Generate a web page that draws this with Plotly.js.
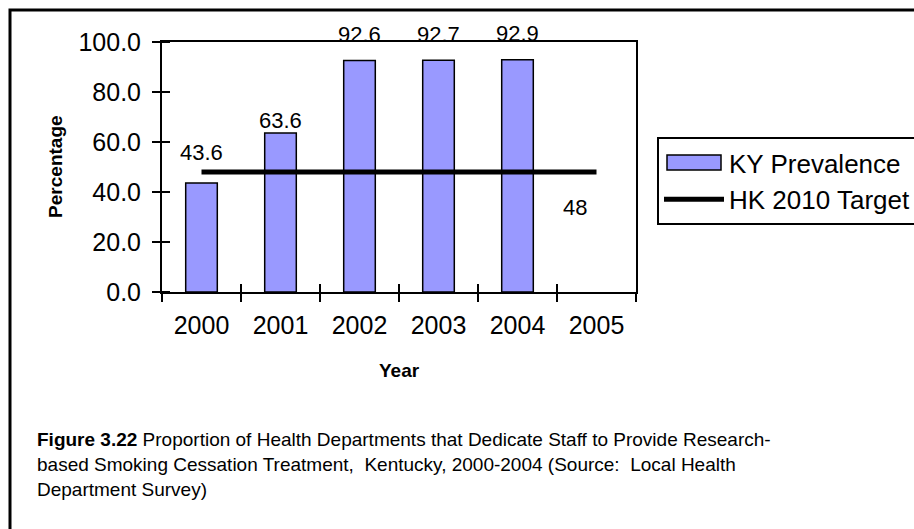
<!DOCTYPE html>
<html>
<head>
<meta charset="utf-8">
<script src="https://cdn.plot.ly/plotly-3.0.1.min.js"></script>
<style>
  html, body { margin: 0; padding: 0; background: #fff; }
  #chart { width: 914px; height: 529px; }
</style>
</head>
<body>
<div id="chart"></div>
<script>
// Data
const years = ['2000', '2001', '2002', '2003', '2004', '2005'];
const kyPrevalence = [43.6, 63.6, 92.6, 92.7, 92.9, null];
const hkTarget = [48, 48, 48, 48, 48, 48];
const captionLines = [
    '<b>Figure 3.22</b> Proportion of Health Departments that Dedicate Staff to Provide Research-',
    'based Smoking Cessation Treatment,  Kentucky, 2000-2004 (Source:  Local Health',
    'Department Survey)'
];

// label offsets (px above the bar top), Excel nudged them around
const labelShift = [31, 13, 26, 26, 26];

const FONT = 'Arial, "Liberation Sans", sans-serif';

const barTrace = {
    x: years,
    y: kyPrevalence,
    name: 'KY Prevalence',
    type: 'bar',
    marker: { color: '#9999ff', line: { color: '#000', width: 1.5 } },
    legendgroup: 'a',
    hoverinfo: 'skip'
};

const lineTrace = {
    x: years,
    y: hkTarget,
    name: 'HK 2010 Target',
    type: 'scatter',
    mode: 'lines',
    line: { color: '#000', width: 5 },
    legendgroup: 'b',
    hoverinfo: 'skip'
};

// transparent copy on an overlay x axis, only so the inner half of the x ticks gets drawn
const tickTraceX = {
    x: years, y: hkTarget,
    xaxis: 'x2', yaxis: 'y',
    type: 'scatter', mode: 'lines',
    line: { width: 0.1, color: 'rgba(0,0,0,0)' },
    showlegend: false, hoverinfo: 'skip'
};

const annotations = [];
kyPrevalence.forEach((v, i) => {
    if (v === null) return;
    annotations.push({
        x: i, y: v, xref: 'x', yref: 'y',
        text: v.toFixed(1), showarrow: false,
        yanchor: 'middle', yshift: labelShift[i],
        font: { family: FONT, size: 22, color: '#000' }
    });
});
// only the last point of the target line is labelled
const last = hkTarget.length - 1;
annotations.push({
    x: last, y: hkTarget[last], xref: 'x', yref: 'y',
    text: String(hkTarget[last]), showarrow: false,
    xshift: -22, yshift: -35, yanchor: 'middle',
    font: { family: FONT, size: 22, color: '#000' }
});
// axis titles
annotations.push({
    xref: 'paper', yref: 'paper', x: -0.226, y: 0.5,
    xanchor: 'center', yanchor: 'middle',
    text: '<b>Percentage</b>', textangle: -90, showarrow: false,
    font: { family: FONT, size: 19, color: '#000' }
});
annotations.push({
    xref: 'paper', yref: 'paper', x: 0.5, y: -0.312,
    xanchor: 'center', yanchor: 'middle',
    text: '<b>Year</b>', showarrow: false,
    font: { family: FONT, size: 19, color: '#000' }
});
// caption
captionLines.forEach((t, i) => {
    annotations.push({
        xref: 'paper', yref: 'paper',
        x: (35 - 162) / 474, y: (292 - 439 - i * 25) / 250,
        xanchor: 'left', yanchor: 'middle', align: 'left',
        text: t, showarrow: false,
        font: { family: FONT, size: 19, color: '#000' }
    });
});

const axisBase = {
    showgrid: false, zeroline: false,
    tickwidth: 2, tickcolor: '#000', ticklen: 8,
    automargin: false, fixedrange: true
};

const layout = {
    width: 914,
    height: 529,
    margin: { l: 162, r: 278, t: 42, b: 237, autoexpand: false },
    paper_bgcolor: '#fff',
    plot_bgcolor: '#fff',
    font: { family: FONT, color: '#000' },
    bargap: 0.6,
    showlegend: true,
    legend: {
        x: (657 - 162) / 474, y: (292 - 137) / 250,
        xanchor: 'left', yanchor: 'top',
        bordercolor: '#000', borderwidth: 2,
        font: { family: FONT, size: 26, color: '#000' },
        traceorder: 'grouped', tracegroupgap: 0,
        itemwidth: 60
    },
    xaxis: Object.assign({}, axisBase, {
        type: 'category',
        range: [-0.5, 5.5],
        tickson: 'boundaries',
        ticks: 'outside',
        ticklabelstandoff: 10,
        showline: true, linecolor: '#000', linewidth: 2, mirror: true,
        tickfont: { family: FONT, size: 25, color: '#000' }
    }),
    yaxis: Object.assign({}, axisBase, {
        range: [0, 100],
        dtick: 20, tickformat: '.1f',
        ticks: 'outside',
        ticklabelstandoff: 6,
        showline: true, linecolor: '#000', linewidth: 2, mirror: true,
        tickfont: { family: FONT, size: 25, color: '#000' },
        minor: { ticks: 'inside', dtick: 20, tick0: 0, ticklen: 8, tickwidth: 2, tickcolor: '#000', showgrid: false }
    }),
    xaxis2: Object.assign({}, axisBase, {
        type: 'category', overlaying: 'x', anchor: 'y', side: 'bottom',
        range: [-0.5, 5.5], tickson: 'boundaries',
        ticks: 'inside',
        showticklabels: false, showline: false
    }),
    shapes: [{
        type: 'rect', xref: 'paper', yref: 'paper',
        x0: (10 - 162) / 474, x1: 2,
        y0: -2, y1: (292 - 10) / 250,
        line: { color: '#000', width: 3 }
    }],
    annotations: annotations
};

Plotly.newPlot('chart', [barTrace, lineTrace, tickTraceX], layout, { displayModeBar: false, staticPlot: true })
    .then(gd => {
        // Excel draws the bar key as a wide box, stretch plotly's square one to match
        const sw = gd.querySelector('.legend .traces .legendpoints path');
        if (sw) sw.setAttribute('d', 'M-27,7.5H27V-7.5H-27Z');
    });
</script>
</body>
</html>
